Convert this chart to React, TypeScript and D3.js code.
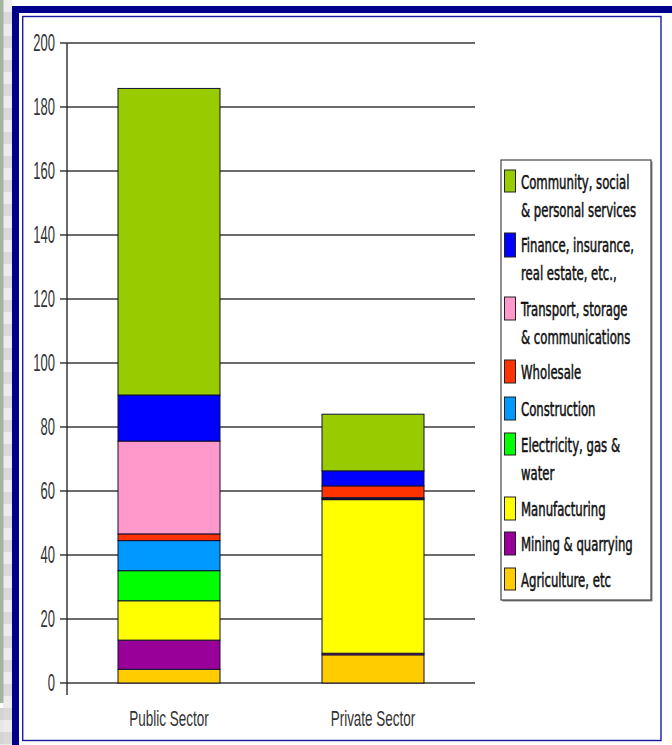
import React from "react";
import * as d3 from "d3";

const categories = ["Public Sector", "Private Sector"];
const seriesKeys = [
  "Agriculture",
  "Mining",
  "Manufacturing",
  "Electricity",
  "Construction",
  "Wholesale",
  "Transport",
  "Finance",
  "Community",
];
const agriculture = [4.3, 8.8];
const mining = [9.1, 0.5];
const manufacturing = [12.3, 48.0];
const electricity = [9.4, 0.3];
const construction = [9.4, 0.3];
const wholesale = [2.1, 3.7];
const transport = [29.0, 0];
const finance = [14.4, 4.7];
const community = [95.8, 17.7];
const seriesColors = [
  "#FFCC00",
  "#990099",
  "#FFFF00",
  "#00FF00",
  "#0099FF",
  "#FF3300",
  "#FF99CC",
  "#0000FF",
  "#99CC00",
];
const legendLabels = [
  ["Agriculture, etc"],
  ["Mining & quarrying"],
  ["Manufacturing"],
  ["Electricity, gas &", "water"],
  ["Construction"],
  ["Wholesale"],
  ["Transport, storage", "& communications"],
  ["Finance, insurance,", "real estate, etc.,"],
  ["Community, social", "& personal services"],
];
const yTicks = [0, 20, 40, 60, 80, 100, 120, 140, 160, 180, 200];

const W = 672;
const H = 745;

export default function App() {
  const values = [agriculture, mining, manufacturing, electricity, construction, wholesale, transport, finance, community];
  const table = categories.map((c, i) => {
    const row: any = { category: c };
    seriesKeys.forEach((k, j) => (row[k] = values[j][i]));
    return row;
  });
  const stacked = d3.stack().keys(seriesKeys)(table);

  const x = d3.scaleBand().domain(categories).range([67, 475]).paddingInner(0.5).paddingOuter(0.25);
  const y = d3.scaleLinear().domain([0, 200]).range([683, 43]);

  const legendOrder = d3.range(seriesKeys.length).reverse();
  const legendItemTops = [170, 233, 297, 360, 397, 433, 497, 532, 568];
  const legendSwatchH = [22, 24, 23, 23, 23, 22, 23, 23, 22];

  const stripeBlocks = d3.range(0, H, 12);

  return (
    <svg width={W} height={H} style={{ position: "absolute", left: 0, top: 0, display: "block" }}>
      <rect x={0} y={0} width={W} height={H} fill="#ffffff" />
      {stripeBlocks.map((b, i) => (
        <rect key={"sb" + i} x={3} y={b} width={9} height={12} fill={i % 2 === 0 ? "#ececec" : "#d9d9d9"} />
      ))}
      <rect x={0} y={0} width={3.5} height={703} fill="#a3b59f" />
      {stripeBlocks
        .filter((b) => b >= 703)
        .map((b, i) => (
          <rect key={"sg" + i} x={0} y={b} width={3.5} height={12} fill={i % 2 === 0 ? "#d4d4d4" : "#e8e8e8"} />
        ))}
      <rect x={15.5} y={9.5} width={W} height={H} fill="none" stroke="#00008B" strokeWidth={7} />
      <rect x={22.7} y={16.5} width={661 - 22.7} height={740.5 - 16.5} fill="none" stroke="#1a1aa0" strokeWidth={1.4} />

      {yTicks.map((t) => (
        <g key={"g" + t}>
          <line x1={60} x2={475} y1={y(t)} y2={y(t)} stroke="#3a3a3a" strokeWidth={1.6} />
          <text
            transform={`translate(55,${y(t)}) scale(1,1.8)`}
            textAnchor="end"
            dy="0.36em"
            fontFamily="'Liberation Sans', Arial, sans-serif"
            fontSize={13}
            fill="#333"
          >
            {t}
          </text>
        </g>
      ))}
      <line x1={67} x2={67} y1={43} y2={695} stroke="#2a2a2a" strokeWidth={1.4} />

      {stacked.map((s, si) => (
        <g key={"s" + si}>
          {s.map((d, di) =>
            d[1] - d[0] > 0 ? (
              <rect
                key={di}
                x={x(categories[di])!}
                width={x.bandwidth()}
                y={y(d[1])}
                height={y(d[0]) - y(d[1])}
                fill={seriesColors[si]}
                stroke="#111133"
                strokeWidth={1}
              />
            ) : null
          )}
        </g>
      ))}

      {categories.map((c) => (
        <text
          key={c}
          transform={`translate(${x(c)! + x.bandwidth() / 2},717.5) scale(1,1.7)`}
          textAnchor="middle"
          dy="0.36em"
          fontFamily="'Liberation Sans', Arial, sans-serif"
          fontSize={13.5}
          fill="#333"
        >
          {c}
        </text>
      ))}

      <rect x={502.5} y={161.5} width={150} height={440} fill="#888" />
      <rect x={501} y={160} width={150} height={440} fill="#fff" stroke="#444" strokeWidth={1.2} />
      {legendOrder.map((si, li) => {
        const top = legendItemTops[li];
        const lines = legendLabels[si];
        return (
          <g key={"l" + si}>
            <rect x={504.5} y={top} width={11} height={legendSwatchH[li]} fill={seriesColors[si]} stroke="#222" strokeWidth={1} />
            {lines.map((ln, k) => (
              <text
                key={k}
                transform={`translate(521,${top + 12.5 + k * 27.5}) scale(1,1.45)`}
                dy="0.36em"
                fontFamily="'DejaVu Sans Condensed', 'DejaVu Sans', sans-serif"
                fontSize={13}
                fill="#111"
                stroke="#111"
                strokeWidth={0.35}
              >
                {ln}
              </text>
            ))}
          </g>
        );
      })}
    </svg>
  );
}
